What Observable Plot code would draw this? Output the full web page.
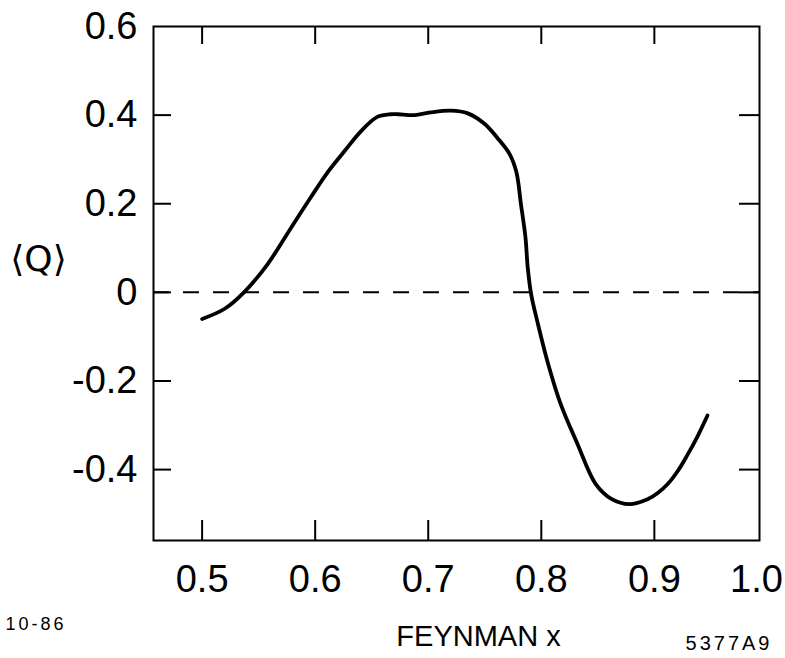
<!DOCTYPE html>
<html>
<head>
<meta charset="utf-8">
<script src="https://cdn.jsdelivr.net/npm/d3@7"></script>
<script src="https://cdn.jsdelivr.net/npm/@observablehq/plot@0.6"></script>
<style>
  html, body { margin: 0; padding: 0; background: #fff; }
  #chart { width: 785px; height: 658px; }
</style>
</head>
<body>
<div id="chart"></div>
<script>
// ---- data ----
const feynmanX = [0.500, 0.520, 0.537, 0.558, 0.579, 0.596, 0.611, 0.626, 0.641, 0.655,
                  0.667, 0.673, 0.688, 0.702, 0.720, 0.735, 0.750, 0.761, 0.772, 0.778,
                  0.782, 0.786, 0.788, 0.791, 0.797, 0.806, 0.817, 0.832, 0.848, 0.862,
                  0.878, 0.894, 0.903, 0.912, 0.921, 0.929, 0.938, 0.947];
const meanQ = [-0.060, -0.037, 0.000, 0.064, 0.147, 0.214, 0.271, 0.319, 0.365, 0.396,
               0.402, 0.402, 0.400, 0.406, 0.410, 0.404, 0.380, 0.349, 0.312, 0.271,
               0.199, 0.124, 0.056, -0.004, -0.071, -0.161, -0.251, -0.342, -0.432, -0.466,
               -0.478, -0.467, -0.453, -0.432, -0.402, -0.368, -0.326, -0.278];

const xTickValues = [0.5, 0.6, 0.7, 0.8, 0.9];
const xTickLabels = ["0.5", "0.6", "0.7", "0.8", "0.9"];
const xEndValue = [1.0];
const xEndLabel = ["1.0"];
const yTickValues = [0.4, 0.2, 0, -0.2, -0.4];
const yLabelValues = [0.6, 0.4, 0.2, 0, -0.2, -0.4];
const yLabelTexts = ["0.6", "0.4", "0.2", "0", "-0.2", "-0.4"];
const zeroLine = [0];

const xDomain = [0.457, 0.993];
const yDomain = [-0.56, 0.6];

const yAxisTitle = "⟨Q⟩";
const xAxisTitle = "FEYNMAN x";
const dateCode = "10-86";
const figureCode = "5377A9";

// ---- layout ----
const W = 785, H = 658;
const mL = 153, mR = 26, mT = 26, mB = 118;
const plotW = W - mL - mR, plotH = H - mT - mB;

const points = feynmanX.map((x, i) => ({x, q: meanQ[i]}));
const fmt = (vals, labels) => d => labels[vals.indexOf(d)];

const chart = Plot.plot({
  width: W,
  height: H,
  marginLeft: mL,
  marginRight: mR,
  marginTop: mT,
  marginBottom: mB,
  style: {fontFamily: "'Liberation Sans', Arial, sans-serif", color: "#000", background: "#fff"},
  x: {domain: xDomain, axis: null, label: null},
  y: {domain: yDomain, axis: null, label: null},
  marks: [
    Plot.frame({stroke: "#000", strokeWidth: 2}),
    // inward ticks
    Plot.tickX(xTickValues, {x: d => d, stroke: "#000", strokeWidth: 2, insetTop: plotH - 20}),
    Plot.tickX(xTickValues, {x: d => d, stroke: "#000", strokeWidth: 2, insetBottom: plotH - 18}),
    Plot.tickY(yTickValues, {y: d => d, stroke: "#000", strokeWidth: 2, insetRight: plotW - 18}),
    Plot.tickY(yTickValues, {y: d => d, stroke: "#000", strokeWidth: 2, insetLeft: plotW - 20}),
    // tick labels
    Plot.axisX(xTickValues, {label: null, tickSize: 0, tickPadding: 25, fontSize: 38, tickFormat: fmt(xTickValues, xTickLabels), fill: "#000"}),
    Plot.text(xEndValue, {x: d => d, text: fmt(xEndValue, xEndLabel), frameAnchor: "bottom", lineAnchor: "top", dx: -11, dy: 25, fontSize: 38, fill: "#000"}),
    Plot.axisY(yLabelValues, {label: null, tickSize: 0, tickPadding: 16, fontSize: 38, tickFormat: fmt(yLabelValues, yLabelTexts), fill: "#000"}),
    // dashed zero line
    Plot.ruleY(zeroLine, {stroke: "#000", strokeWidth: 2, strokeDasharray: "16,14"}),
    // curve
    Plot.line(points, {x: "x", y: "q", stroke: "#000", strokeWidth: 3.8, curve: "catmull-rom", strokeLinecap: "round"}),
    // titles and codes
    Plot.text([yAxisTitle], {frameAnchor: "left", dx: -115, dy: -24, fontSize: 36, textAnchor: "middle", lineAnchor: "middle", fill: "#000", fontFamily: "'DejaVu Sans', 'Liberation Sans', sans-serif"}),
    Plot.text([xAxisTitle], {frameAnchor: "bottom", dx: 22, dy: 105, fontSize: 29, textAnchor: "middle", lineAnchor: "bottom", fill: "#000"}),
    Plot.text([dateCode], {frameAnchor: "bottom-left", dx: -148, dy: 89, fontSize: 18, textAnchor: "start", lineAnchor: "bottom", fill: "#000"}),
    Plot.text([figureCode], {frameAnchor: "bottom-right", dx: 13, dy: 109, fontSize: 20, textAnchor: "end", lineAnchor: "bottom", fill: "#000"})
  ]
});
// wide letter spacing of the two stamp codes
chart.querySelectorAll("text").forEach(t => {
  if (t.textContent === dateCode || t.textContent === figureCode) t.style.letterSpacing = "3px";
});
document.getElementById("chart").appendChild(chart);
</script>
</body>
</html>
